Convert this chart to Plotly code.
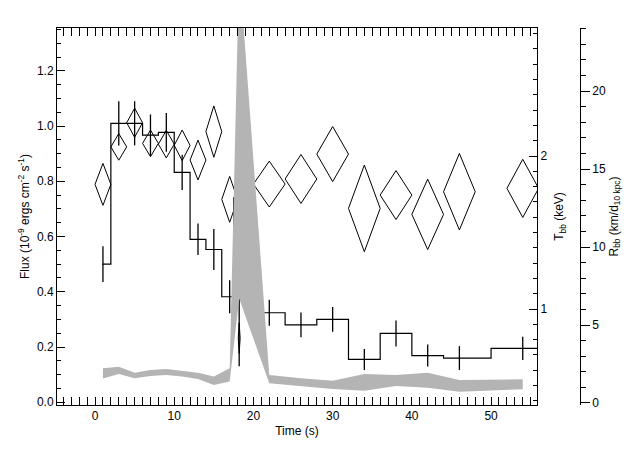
import plotly.graph_objects as go

# Flux light curve (step histogram)
bin_edges = [1, 2, 4, 6, 8, 10, 12, 14, 16, 17.5, 20, 24, 28, 32, 36, 40, 44, 50, 56]
bin_flux = [0.50, 1.01, 1.01, 0.967, 0.977, 0.832, 0.59, 0.553, 0.382, 0.74, 0.324, 0.28, 0.30, 0.155, 0.249, 0.169, 0.16, 0.195]
# Flux error bars
err_t = [1, 3, 5, 7, 9, 11, 13, 15, 17, 18.2, 22, 26, 30, 34, 38, 42, 46, 54]
err_flux = [0.50, 1.01, 1.01, 0.967, 0.977, 0.832, 0.59, 0.553, 0.382, 0.75, 0.324, 0.28, 0.30, 0.155, 0.249, 0.169, 0.16, 0.195]
err_size = [0.065, 0.08, 0.08, 0.075, 0.07, 0.064, 0.057, 0.074, 0.06, 0.62, 0.047, 0.045, 0.045, 0.038, 0.047, 0.04, 0.043, 0.042]
# Blackbody temperature (diamonds)
kt_t = [1, 3, 5, 7, 9, 11, 13, 15, 17, 18.2, 22, 26, 30, 34, 38, 42, 46, 54]
kt_dt = [1, 1, 1, 1, 1, 1, 1, 1, 1, 0.12, 2, 2, 2, 2, 2, 2, 2, 2]
kt = [1.815, 2.06, 2.218, 2.083, 2.078, 2.07, 1.974, 2.16, 1.717, 0.81, 1.817, 1.85, 2.013, 1.658, 1.745, 1.619, 1.767, 1.789]
kt_err = [0.137, 0.087, 0.095, 0.087, 0.09, 0.1, 0.13, 0.168, 0.15, 0.1, 0.15, 0.16, 0.18, 0.283, 0.16, 0.23, 0.25, 0.19]
# Blackbody radius band
r_t = [1, 3, 5, 7, 9, 11, 13, 15, 17, 18.2, 22, 26, 30, 34, 38, 42, 46, 54]
r_lo = [1.57, 1.86, 1.58, 1.73, 1.79, 1.69, 1.54, 1.15, 1.37, 6.7, 1.26, 1.09, 0.9, 0.79, 1.09, 0.98, 0.72, 0.88]
r_hi = [2.22, 2.33, 1.94, 2.12, 2.18, 2.07, 1.94, 1.69, 2.22, 28, 1.79, 1.58, 1.42, 1.86, 1.8, 1.94, 1.47, 1.52]

fig = go.Figure()

fig.add_trace(go.Scatter(x=r_t + r_t[::-1], y=r_hi + r_lo[::-1], fill="toself",
                         fillcolor="#b4b4b4", line=dict(width=0), yaxis="y3",
                         mode="lines", hoverinfo="skip"))

fig.add_trace(go.Scatter(x=bin_edges, y=bin_flux + [bin_flux[-1]], mode="lines",
                         line=dict(shape="hv", color="black", width=1.2)))
fig.add_trace(go.Scatter(x=err_t, y=err_flux, mode="markers", marker=dict(size=1, color="black"),
                         error_y=dict(type="data", array=err_size, color="black", width=0, thickness=1.3)))

dx, dy = [], []
for t, w, k, e in zip(kt_t, kt_dt, kt, kt_err):
    dx += [t - w, t, t + w, t, t - w, None]
    dy += [k, k + e, k, k - e, k, None]
fig.add_trace(go.Scatter(x=dx, y=dy, mode="lines", line=dict(color="black", width=1), yaxis="y2"))

font = dict(family="Liberation Sans, Arial, sans-serif", size=12, color="black")
axcommon = dict(showgrid=False, zeroline=False, showline=True, linecolor="black", linewidth=1,
                ticks="inside", tickcolor="black", tickfont=font, automargin=False)
fig.update_layout(
    width=624, height=441, plot_bgcolor="white", paper_bgcolor="white", showlegend=False,
    margin=dict(l=49, r=32, t=20, b=44), font=font,
    xaxis=dict(axcommon, domain=[0, 0.884], range=[-4.8, 55.8], tickvals=[0, 10, 20, 30, 40, 50],
               ticklen=8, mirror="allticks", minor=dict(dtick=1, ticklen=4, ticks="inside", tickcolor="black"),
               title=dict(text="Time (s)", font=font, standoff=4)),
    yaxis=dict(axcommon, range=[-0.01, 1.355], tickvals=[0, 0.2, 0.4, 0.6, 0.8, 1.0, 1.2], tickformat=".1f",
               ticklen=8, minor=dict(dtick=0.05, ticklen=4, ticks="inside", tickcolor="black"),
               title=dict(text="Flux (10<sup>-9</sup> ergs cm<sup>-2</sup> s<sup>-1</sup>)", font=font, standoff=4)),
    yaxis2=dict(axcommon, overlaying="y", side="right", anchor="x", range=[0.373, 2.837],
                tickvals=[1, 2], ticklen=8, minor=dict(dtick=0.1, ticklen=4, ticks="inside", tickcolor="black"),
                title=dict(text="T<sub>bb</sub> (keV)", font=font, standoff=8)),
    yaxis3=dict(axcommon, overlaying="y", side="right", anchor="free", position=0.963, range=[-0.13, 24.05],
                tickvals=[0, 5, 10, 15, 20], ticks="outside", ticklen=9,
                minor=dict(dtick=1, ticklen=5, ticks="outside", tickcolor="black"),
                title=dict(text="R<sub>bb</sub> (km/d<sub>10 kpc</sub>)", font=font, standoff=4)),
)
fig.write_html("out.html")
